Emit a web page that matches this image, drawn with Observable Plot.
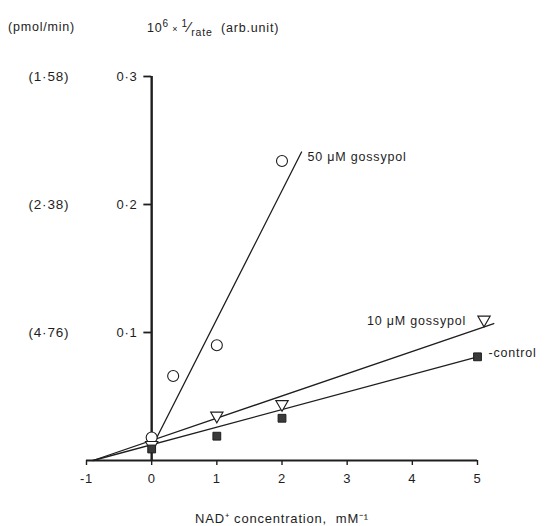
<!DOCTYPE html>
<html>
<head>
<meta charset="utf-8">
<script src="https://cdn.jsdelivr.net/npm/d3@7"></script>
<script src="https://cdn.jsdelivr.net/npm/@observablehq/plot@0.6"></script>
<style>
  body { margin: 0; background: #fff; font-family: "Liberation Sans", Arial, sans-serif; color: #222; }
  #wrap { width: 552px; }
  #head { position: relative; height: 50px; font-size: 12.5px; letter-spacing: 0.8px; }
  #head span { position: absolute; white-space: nowrap; }
  #head sup { font-size: 10px; }
  #head sub { font-size: 10.5px; }
  #head .slash { font-size: 15px; }
</style>
</head>
<body>
<div id="wrap">
  <div id="head">
    <span id="unitL" style="left:8px; top:20px;">(pmol/min)</span>
    <span id="unitR" style="left:147px; top:18px;">10<sup>6</sup><span style="position:static;font-size:9px;"> × </span><sup>1</sup><span class="slash" style="position:static;">⁄</span><sub>rate</sub>&nbsp; (arb.unit)</span>
  </div>
  <div id="chart"></div>
</div>
<script>
// ---- data ----
const xTicks = [-1, 0, 1, 2, 3, 4, 5];
const yTicks = [0.1, 0.2, 0.3];
const yTickLabels = ["0·1", "0·2", "0·3"];
const rateLabels = ["(4·76)", "(2·38)", "(1·58)"];

const seriesNames = ["control", "10 μM gossypol", "50 μM gossypol"];

const ctrlX = [0, 1, 2, 5];
const ctrlY = [0.009, 0.019, 0.033, 0.081];
const g10X = [0, 1, 2, 5.1];
const g10Y = [0.012, 0.035, 0.044, 0.11];
const g50X = [0, 0.33, 1, 2];
const g50Y = [0.018, 0.066, 0.09, 0.234];

// fitted lines (end points)
const ctrlLineX = [-0.9, 5.0];
const ctrlLineY = [0, 0.081];
const g10LineX = [-0.9, 5.25];
const g10LineY = [0, 0.107];
const g50LineX = [0.05, 2.3];
const g50LineY = [0.015, 0.241];

const xLabel = "NAD⁺ concentration,  mM⁻¹";

// ---- build tables ----
const pts = (name, xs, ys) => xs.map((x, i) => ({series: name, x, y: ys[i]}));
const ctrlPts = pts(seriesNames[0], ctrlX, ctrlY);
const g10Pts = pts(seriesNames[1], g10X, g10Y);
const g50Pts = pts(seriesNames[2], g50X, g50Y);
const lines = [
  ...pts(seriesNames[0], ctrlLineX, ctrlLineY),
  ...pts(seriesNames[1], g10LineX, g10LineY),
  ...pts(seriesNames[2], g50LineX, g50LineY)
];
const yTickRows = yTicks.map((y, i) => ({y, label: yTickLabels[i], rate: rateLabels[i]}));

const ink = "#1e1e1e";
const font = "Liberation Sans, Arial, sans-serif";

const chart = Plot.plot({
  width: 552,
  height: 476,
  marginLeft: 86,
  marginRight: 75,
  marginTop: 26,
  marginBottom: 66,
  style: {fontFamily: font, fontSize: "12.5px", color: ink, letterSpacing: "0.8px", background: "#fff"},
  x: {domain: [-1, 5]},
  y: {domain: [0, 0.3], axis: null},
  marks: [
    // x axis
    Plot.ruleY([0], {stroke: ink, strokeWidth: 1.8}),
    Plot.axisX(xTicks, {
      tickSize: 5, tickPadding: 8, stroke: ink, strokeWidth: 1.4,
      fontSize: 13, fill: ink,
      tickFormat: d => d < 0 ? "-" + Math.abs(d) : String(d),
      label: xLabel, labelAnchor: "center", labelArrow: "none", labelOffset: 62
    }),
    // fitted lines
    Plot.line(lines, {x: "x", y: "y", z: "series", stroke: ink, strokeWidth: 1.3}),
    // y axis drawn at x = 0
    Plot.ruleX([0], {y1: 0, y2: d3.max(yTicks), stroke: ink, strokeWidth: 2.4}),
    Plot.ruleY(yTickRows, {y: "y", x1: -0.12, x2: 0, stroke: ink, strokeWidth: 1.8}),
    Plot.text(yTickRows, {x: 0, y: "y", text: "label", textAnchor: "end", dx: -14, fontSize: 13, fill: ink}),
    Plot.text(yTickRows, {x: -1, y: "y", text: "rate", textAnchor: "start", dx: -58, fontSize: 13.5, fill: ink}),
    // data points
    Plot.dot(g50Pts, {x: "x", y: "y", r: 5.5, stroke: ink, strokeWidth: 1.1, fill: "white"}),
    Plot.dot(g10Pts, {x: "x", y: "y", symbol: "triangle", rotate: 180, r: 4.6, stroke: ink, strokeWidth: 1.1, fill: "white"}),
    Plot.dot(ctrlPts, {x: "x", y: "y", symbol: "square", r: 4.4, stroke: ink, strokeWidth: 1, fill: "#3a3a3a"}),
    // series labels, next to each series' last point
    Plot.text([lines[5]], {x: "x", y: "y", text: "series", textAnchor: "start", dx: 6, dy: 5, fontSize: 12.5, fill: ink}),
    Plot.text([g10Pts[3]], {x: "x", y: "y", text: "series", textAnchor: "end", dx: -18, dy: 1, fontSize: 12.5, fill: ink}),
    Plot.text([ctrlPts[3]], {x: "x", y: "y", text: () => "-control", textAnchor: "start", dx: 11, dy: -4, fontSize: 12.5, fill: ink})
  ]
});
document.getElementById("chart").appendChild(chart);
</script>
</body>
</html>
